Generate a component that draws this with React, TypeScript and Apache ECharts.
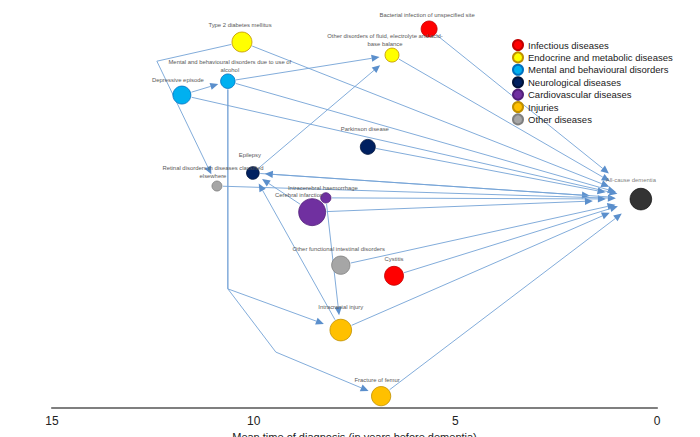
import React, { useEffect, useRef } from "react";
import * as echarts from "echarts";

// ---------- DATA ----------
const categories = [
  "Infectious diseases",
  "Endocrine and metabolic diseases",
  "Mental and behavioural disorders",
  "Neurological diseases",
  "Cardiovascular diseases",
  "Injuries",
  "Other diseases",
];

const nodeNames = [
  "Type 2 diabetes mellitus",
  "Bacterial infection of unspecified site",
  "Other disorders of fluid, electrolyte and acid-base balance",
  "Mental and behavioural disorders due to use of alcohol",
  "Depressive episode",
  "Parkinson disease",
  "Epilepsy",
  "Retinal disorders in diseases classified elsewhere",
  "Intracerebral haemorrhage",
  "Cerebral infarction",
  "Other functional intestinal disorders",
  "Cystitis",
  "Intracranial injury",
  "Fracture of femur",
  "All-cause dementia",
];
const nodeLabels = [
  "Type 2 diabetes mellitus",
  "Bacterial infection of unspecified site",
  "Other disorders of fluid, electrolyte and acid-\nbase balance",
  "Mental and behavioural disorders due to use of\nalcohol",
  "Depressive episode",
  "Parkinson disease",
  "Epilepsy",
  "Retinal disorders in diseases classified\nelsewhere",
  "Intracerebral haemorrhage",
  "Cerebral infarction",
  "Other functional intestinal disorders",
  "Cystitis",
  "Intracranial injury",
  "Fracture of femur",
  "All-cause dementia",
];
// category index, -1 = outcome
const nodeCategory = [1, 0, 1, 2, 2, 3, 3, 6, 4, 4, 6, 0, 5, 5, -1];
// mean time of diagnosis (years before dementia)
const nodeYears = [10.29, 5.65, 6.57, 10.64, 11.78, 7.17, 10.02, 10.91, 8.21, 8.55, 7.84, 6.52, 7.84, 6.84, 0.4];
// vertical layout level (0 = top, 100 = axis)
const nodeLevel = [10.3, 7.1, 13.5, 19.9, 23.3, 36.0, 42.4, 45.6, 48.5, 52.0, 65.0, 67.6, 80.9, 97.1, 48.8];
// bubble size
const nodeSize = [20, 16, 14, 14.5, 18, 15, 12.7, 10, 10.3, 27, 18.3, 19, 21.7, 19.3, 21.7];

const edgeFrom = [
  "Bacterial infection of unspecified site",
  "Other disorders of fluid, electrolyte and acid-base balance",
  "Type 2 diabetes mellitus",
  "Mental and behavioural disorders due to use of alcohol",
  "Depressive episode",
  "Parkinson disease",
  "Epilepsy",
  "Retinal disorders in diseases classified elsewhere",
  "Intracerebral haemorrhage",
  "Cerebral infarction",
  "Other functional intestinal disorders",
  "Cystitis",
  "Intracranial injury",
  "Fracture of femur",
  "Depressive episode",
  "Mental and behavioural disorders due to use of alcohol",
  "Epilepsy",
  "Type 2 diabetes mellitus",
  "Mental and behavioural disorders due to use of alcohol",
  "Mental and behavioural disorders due to use of alcohol",
  "Intracerebral haemorrhage",
  "Intracranial injury",
  "Cerebral infarction",
  "All-cause dementia",
];
const edgeTo = [
  "All-cause dementia",
  "All-cause dementia",
  "All-cause dementia",
  "All-cause dementia",
  "All-cause dementia",
  "All-cause dementia",
  "All-cause dementia",
  "All-cause dementia",
  "All-cause dementia",
  "All-cause dementia",
  "All-cause dementia",
  "All-cause dementia",
  "All-cause dementia",
  "All-cause dementia",
  "Mental and behavioural disorders due to use of alcohol",
  "Other disorders of fluid, electrolyte and acid-base balance",
  "Other disorders of fluid, electrolyte and acid-base balance",
  "Retinal disorders in diseases classified elsewhere",
  "Intracranial injury",
  "Fracture of femur",
  "Intracranial injury",
  "Epilepsy",
  "Epilepsy",
  "Epilepsy",
];
// connector bend points [years, level]
const edgeBends: number[][][] = [
  [], [], [], [], [], [], [], [], [], [], [], [], [], [],
  [], [], [],
  [[12.4, 15.0]],
  [[10.64, 70.8]],
  [[10.64, 70.8], [9.45, 86.3]],
  [], [], [], [],
];

// ---------- STYLE ----------
const catColors = ["#FF0000", "#FFFF00", "#00B0F0", "#002060", "#7030A0", "#FFC000", "#A6A6A6"];
const catBorders = ["#C00000", "#BF9000", "#0070C0", "#00133A", "#52207A", "#BF8F00", "#7F7F7F"];
const endGaps = [41, 36, 34, 26, 24, 36, 51, 25, 35, 48, 26, 24, 34, 24, 10, 12.6, 15.6, 13, 18, 13.6, 15, 12, 11, 12];
const startGaps: Record<number, number> = { 23: 30 };
const labelStyle: Record<string, { dx: number; dist: number }> = {
  "Type 2 diabetes mellitus": { dx: -2, dist: 3 },
  "Bacterial infection of unspecified site": { dx: -2, dist: 2 },
  "Other disorders of fluid, electrolyte and acid-base balance": { dx: -7, dist: 0 },
  "Mental and behavioural disorders due to use of alcohol": { dx: 2, dist: 0 },
  "Depressive episode": { dx: -4, dist: 2 },
  "Parkinson disease": { dx: -3, dist: 6 },
  Epilepsy: { dx: -3, dist: 7 },
  "Retinal disorders in diseases classified elsewhere": { dx: -4, dist: 1 },
  "Intracerebral haemorrhage": { dx: -3, dist: 0 },
  "Cerebral infarction": { dx: -13, dist: -1 },
  "Other functional intestinal disorders": { dx: -2, dist: 3 },
  Cystitis: { dx: 0, dist: 3 },
  "Intracranial injury": { dx: 0, dist: 8 },
  "Fracture of femur": { dx: -4, dist: 2 },
  "All-cause dementia": { dx: -10, dist: 4 },
};
const edgeColor = "#74A3D6";
const arrowColor = "#5B8FCC";
const labelFont = "'Liberation Sans Narrow', 'Liberation Sans', Arial, sans-serif";
const mainFont = "'Liberation Sans', Arial, sans-serif";

export default function App() {
  const ref = useRef<HTMLDivElement>(null);
  useEffect(() => {
    if (!ref.current) return;
    const chart = echarts.init(ref.current, undefined, { renderer: "svg" });
    const idx: Record<string, number> = {};
    nodeNames.forEach((n, i) => (idx[n] = i));

    const labelFor = (i: number) => {
      const ls = labelStyle[nodeNames[i]] || { dx: 0, dist: 2 };
      return {
        show: true,
        position: "top",
        distance: ls.dist,
        offset: [ls.dx, 0],
        formatter: nodeLabels[i],
        fontSize: 5.9,
        lineHeight: 8,
        color: "#595959",
        fontFamily: labelFont,
        align: "center",
      };
    };

    const nodeItem = (i: number) => ({
      name: nodeNames[i],
      value: [nodeYears[i], nodeLevel[i], nodeSize[i]],
      label: labelFor(i),
    });

    const scatterSeries: any[] = categories.map((c, ci) => ({
      type: "scatter",
      name: c,
      z: 3,
      symbol: "circle",
      symbolSize: (v: number[]) => v[2],
      itemStyle: { color: catColors[ci], borderColor: catBorders[ci], borderWidth: 0.8, opacity: 1 },
      data: nodeNames.map((_, i) => i).filter((i) => nodeCategory[i] === ci).map(nodeItem),
      emphasis: { disabled: true },
    }));
    scatterSeries.push({
      type: "scatter",
      name: "Outcome",
      z: 3,
      symbolSize: (v: number[]) => v[2],
      itemStyle: { color: "#000000", borderColor: "#000000", borderWidth: 0.8 },
      data: nodeNames.map((_, i) => i).filter((i) => nodeCategory[i] === -1).map(nodeItem),
      emphasis: { disabled: true },
    });

    const edgeSeries = {
      type: "custom",
      name: "edges",
      z: 2,
      silent: true,
      clip: false,
      encode: { x: 0, y: 1 },
      data: edgeFrom.map((f) => [nodeYears[idx[f]], nodeLevel[idx[f]]]),
      renderItem: (params: any, api: any) => {
        const i = params.dataIndex;
        const s = idx[edgeFrom[i]];
        const t = idx[edgeTo[i]];
        const pts: number[][] = [
          api.coord([nodeYears[s], nodeLevel[s]]),
          ...edgeBends[i].map((b) => api.coord(b)),
          api.coord([nodeYears[t], nodeLevel[t]]),
        ];
        const n = pts.length;
        const sg = startGaps[i] !== undefined ? startGaps[i] : nodeSize[s] / 2 + 1;
        const eg = endGaps[i] !== undefined ? endGaps[i] : nodeSize[t] / 2 + 2;
        {
          const [x0, y0] = pts[0];
          const [x1, y1] = pts[1];
          const L0 = Math.hypot(x1 - x0, y1 - y0) || 1;
          pts[0] = [x0 + ((x1 - x0) / L0) * sg, y0 + ((y1 - y0) / L0) * sg];
        }
        const [xa, ya] = pts[n - 2];
        const [xb, yb] = pts[n - 1];
        const L = Math.hypot(xb - xa, yb - ya) || 1;
        const ux = (xb - xa) / L;
        const uy = (yb - ya) / L;
        const tip = [xb - ux * eg, yb - uy * eg];
        const alen = 8;
        const aw = 3.6;
        const base = [tip[0] - ux * alen, tip[1] - uy * alen];
        const linePts = pts.slice(0, n - 1).concat([base]);
        return {
          type: "group",
          children: [
            {
              type: "polyline",
              shape: { points: linePts },
              style: { stroke: edgeColor, lineWidth: 0.9, fill: null },
            },
            {
              type: "polygon",
              shape: {
                points: [
                  tip,
                  [base[0] - uy * aw, base[1] + ux * aw],
                  [base[0] + uy * aw, base[1] - ux * aw],
                ],
              },
              style: { fill: arrowColor, stroke: null },
            },
          ],
        };
      },
    };

    chart.setOption({
      animation: false,
      backgroundColor: "#ffffff",
      grid: { left: 52, right: 43, top: 0, bottom: 29, containLabel: false, outerBoundsMode: "none" },
      legend: {
        data: categories,
        orient: "vertical",
        left: 512,
        top: 39,
        padding: 0,
        itemWidth: 10,
        itemHeight: 10,
        itemGap: 0.4,
        itemTextGap: 7,
        icon: "circle",
        selectedMode: false,
        textStyle: { fontSize: 9.5, lineHeight: 12, color: "#1a1a1a", fontFamily: mainFont },
      },
      xAxis: {
        type: "value",
        position: "bottom",
        min: 0,
        max: 15,
        interval: 5,
        inverse: true,
        name: "Mean time of diagnosis (in years before dementia)",
        nameLocation: "middle",
        nameGap: 23,
        nameTextStyle: { fontSize: 11, color: "#222", fontFamily: mainFont },
        axisLine: { show: true, onZero: false, lineStyle: { color: "#7F7F7F", width: 2.2 } },
        axisTick: { show: false },
        splitLine: { show: false },
        axisLabel: { fontSize: 12, color: "#222", margin: 7, fontFamily: mainFont },
      },
      yAxis: { type: "value", min: 0, max: 100, inverse: true, show: false },
      series: [edgeSeries, ...scatterSeries],
    });
    return () => chart.dispose();
  }, []);
  return <div ref={ref} style={{ position: "fixed", left: 0, top: 0, width: 700, height: 437 }} />;
}
